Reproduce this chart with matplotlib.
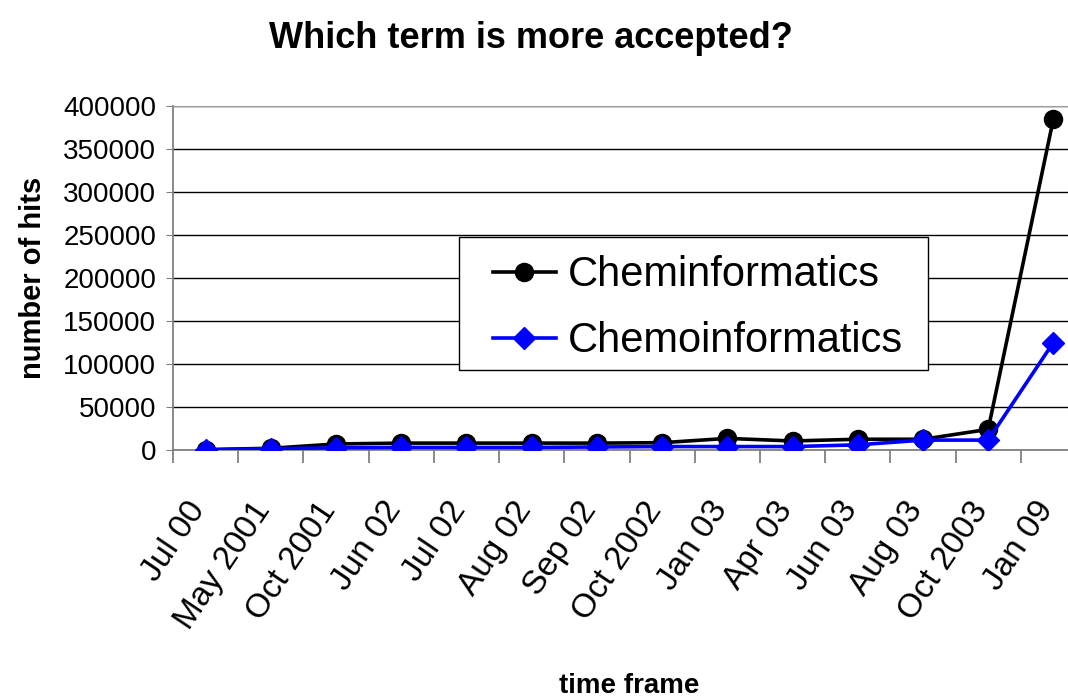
import matplotlib
matplotlib.use("Agg")
import matplotlib.pyplot as plt
from matplotlib.patches import Rectangle
from matplotlib.transforms import ScaledTranslation
import numpy as np

plt.rcParams["font.family"] = ["Liberation Sans", "DejaVu Sans"]

periods = ["Jul 00", "May 2001", "Oct 2001", "Jun 02", "Jul 02", "Aug 02", "Sep 02",
           "Oct 2002", "Jan 03", "Apr 03", "Jun 03", "Aug 03", "Oct 2003", "Jan 09"]
cheminformatics = [500, 2000, 7000, 8000, 8000, 8000, 8000,
                   8500, 13500, 10500, 12500, 12500, 24000, 385000]
chemoinformatics = [0, 1500, 2500, 3000, 3000, 3000, 3500,
                    4000, 4000, 4000, 6000, 11500, 11500, 125000]

W, H = 1068, 699
fig = plt.figure(figsize=(W / 100, H / 100), dpi=100)
# the plot area runs past the right edge of the figure
ax = fig.add_axes([173 / W, 1 - 450 / H, 913 / W, 344 / H])

x = np.arange(len(periods))
ax.plot(x, cheminformatics, color="black", lw=2.6, marker="o", ms=13,
        label="Cheminformatics", zorder=3)
ax.plot(x, chemoinformatics, color="#0000FF", lw=2.6, marker="D", ms=11,
        label="Chemoinformatics", zorder=4)

ax.set_xlim(-0.5, len(periods) - 0.5)
ax.set_ylim(0, 400000)
ax.set_yticks(np.arange(0, 400001, 50000))
ax.tick_params(axis="y", labelsize=20, length=5, color="#808080", direction="out", pad=7)
ax.yaxis.grid(True, color="black", lw=1)
ax.set_axisbelow(True)

# category labels at centres, tick marks on the boundaries
ax.set_xticks(x)
ax.set_xticklabels(periods, rotation=56, ha="right", va="center_baseline",
                   rotation_mode="anchor", fontsize=24)
ax.tick_params(axis="x", which="major", length=0, pad=38)
shift = ScaledTranslation(-7 / 72, 0, fig.dpi_scale_trans)
for lbl in ax.get_xticklabels():
    lbl.set_transform(lbl.get_transform() + shift)
ax.set_xticks(np.arange(-0.5, len(periods)), minor=True)
ax.tick_params(axis="x", which="minor", length=9, color="#808080", width=1.3)

for side in ("left", "bottom"):
    ax.spines[side].set_color("#808080")
    ax.spines[side].set_linewidth(1.3)
ax.spines["top"].set_color("#a0a0a0")
ax.spines["right"].set_visible(False)

fig.text(0.497, 0.932, "Which term is more accepted?", fontsize=26,
         fontweight="bold", ha="center", va="baseline")
ax.set_ylabel("number of hits", fontsize=21, fontweight="bold", labelpad=12)
fig.text(0.589, 0.008, "time frame", fontsize=20, fontweight="bold",
         ha="center", va="baseline")

# legend box drawn separately so its padding can differ per side
ax.add_patch(Rectangle((0.3133, 0.2326), 0.5137, 0.3864, transform=ax.transAxes,
                       facecolor="white", edgecolor="black", lw=1.0, zorder=4.5))
leg = ax.legend(loc="upper left", bbox_to_anchor=(0.3505, 0.566), borderaxespad=0,
                fontsize=30, frameon=False, borderpad=0, handlelength=1.5,
                handletextpad=0.3, labelspacing=0.62)

fig.savefig("out.png", dpi=100)
